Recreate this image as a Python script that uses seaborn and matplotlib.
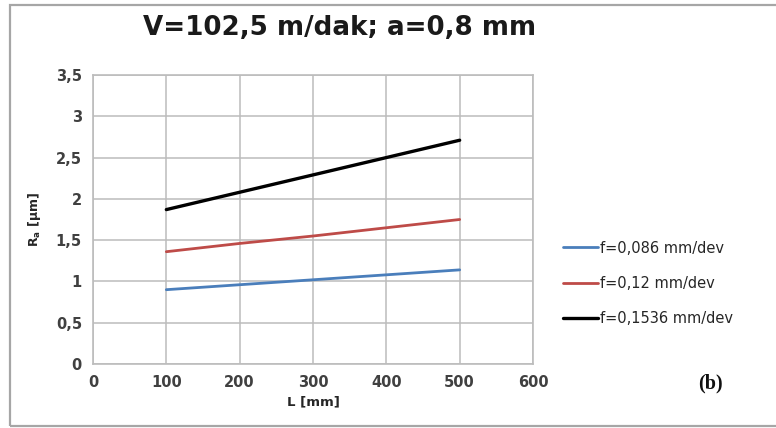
import matplotlib
matplotlib.use("Agg")
import matplotlib.pyplot as plt
from matplotlib.patches import Rectangle
from matplotlib.ticker import FuncFormatter
import pandas as pd
import seaborn as sns

# Surface roughness vs. cutting length for three feed rates
lengths = [100, 200, 300, 400, 500]
ra_f0086 = [0.90, 0.96, 1.02, 1.08, 1.14]
ra_f012 = [1.36, 1.46, 1.55, 1.65, 1.75]
ra_f01536 = [1.87, 2.08, 2.29, 2.50, 2.71]
series_labels = ["f=0,086 mm/dev", "f=0,12 mm/dev", "f=0,1536 mm/dev"]
series_colors = ["#4a7ebb", "#be4b48", "#000000"]

x_ticks = [0, 100, 200, 300, 400, 500, 600]
y_ticks = [0, 0.5, 1, 1.5, 2, 2.5, 3, 3.5]

df = pd.concat(
    [
        pd.DataFrame({"L": lengths, "Ra": vals, "feed": lab})
        for vals, lab in zip([ra_f0086, ra_f012, ra_f01536], series_labels)
    ],
    ignore_index=True,
)

sns.set_theme(style="white")
plt.rcParams["font.family"] = ["DejaVu Sans"]
plt.rcParams["mathtext.default"] = "bf"

fig = plt.figure(figsize=(7.76, 4.28), dpi=100)
ax = fig.add_axes([93 / 776, 1 - 364 / 428, (533 - 93) / 776, (364 - 75) / 428])

sns.lineplot(
    data=df, x="L", y="Ra", hue="feed", hue_order=series_labels,
    palette=series_colors, ax=ax, legend=False, linewidth=2.0,
)
# heavier black line for the highest feed
ax.lines[2].set_linewidth(2.4)

grid_c = "#bcbcbc"
ax.set_xlim(x_ticks[0], x_ticks[-1])
ax.set_ylim(y_ticks[0], y_ticks[-1])
ax.set_xticks(x_ticks)
ax.set_yticks(y_ticks)
ax.yaxis.set_major_formatter(FuncFormatter(lambda v, p: f"{v:g}".replace(".", ",")))
ax.grid(True, color=grid_c, linewidth=1.1)
for s in ax.spines.values():
    s.set_color(grid_c)
    s.set_linewidth(1.2)
ax.tick_params(axis="both", which="major", direction="out", length=5,
               width=1.1, color=grid_c, labelsize=10.5, labelcolor="#404040", pad=3)
for lab in ax.get_xticklabels() + ax.get_yticklabels():
    lab.set_fontweight("bold")

ax.set_xlabel("L [mm]", fontsize=9.5, fontweight="bold", color="#262626", labelpad=4)
ax.set_ylabel(r"R$_{a}$ [μm]", fontsize=9, fontweight="bold", color="#262626", labelpad=9)

fig.text(340 / 776, 1 - 28 / 428, "V=102,5 m/dak; a=0,8 mm", ha="center", va="center",
         fontsize=18.8, fontweight="bold", color="#1a1a1a")

handles = ax.lines[:3]
leg = fig.legend(handles, series_labels, loc="center left",
                 bbox_to_anchor=(556 / 776, 1 - 283.5 / 428), frameon=False,
                 fontsize=10.5, handlelength=2.4, handletextpad=0.15,
                 labelspacing=1.4, borderpad=0)
for t in leg.get_texts():
    t.set_color("#262626")

fig.text(710 / 776, 1 - 383 / 428, "(b)", ha="center", va="center",
         fontsize=14.5, fontweight="bold", family="Liberation Serif", color="#111111")

# outer chart frame
fig.add_artist(Rectangle((10 / 776, 2 / 428), 1.0, (426 - 4.5) / 428,
                         transform=fig.transFigure, fill=False,
                         edgecolor="#a6a6a6", linewidth=1.6))

fig.savefig("out.png", dpi=100)
